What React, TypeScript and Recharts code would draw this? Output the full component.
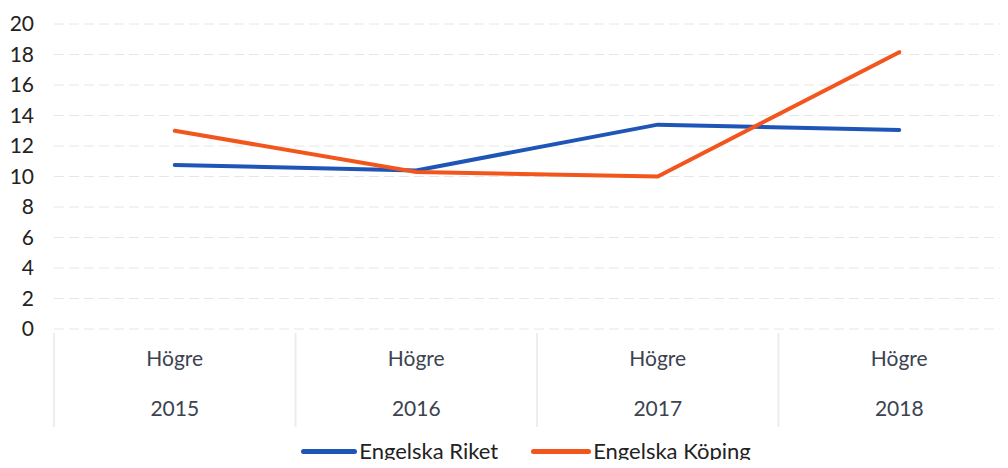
import { LineChart, Line, XAxis, YAxis, CartesianGrid, Legend } from "recharts";

const years = ["2015", "2016", "2017", "2018"];
const level = ["Högre", "Högre", "Högre", "Högre"];
const riket = [10.75, 10.4, 13.4, 13.05];
const koping = [13.0, 10.3, 10.0, 18.15];
const yTicks = [0, 2, 4, 6, 8, 10, 12, 14, 16, 18, 20];

const seriesNames = { riket: "Engelska Riket", koping: "Engelska Köping" };
const colors = { riket: "#1f55b6", koping: "#f2561d" };

const data = years.map((y, i) => ({ year: y, level: level[i], riket: riket[i], koping: koping[i] }));

const CHART_W = 1020;
const LEFT = 54;
const BAND = (CHART_W - LEFT) / years.length;
const FONT = "Lato, 'Open Sans', sans-serif";

function CategoryTick(props: any) {
  const { x, y, payload, index } = props;
  const d = data[index] ?? data.find((r) => r.year === payload.value);
  const sep = "#ededed";
  return (
    <g>
      <line x1={x - BAND / 2} x2={x - BAND / 2} y1={y - 4} y2={y + 90} stroke={sep} strokeWidth={2} />
      {index === years.length - 1 && (
        <line x1={x + BAND / 2} x2={x + BAND / 2} y1={y - 4} y2={y + 90} stroke={sep} strokeWidth={2} />
      )}
      <text x={x} y={y + 20} textAnchor="middle" dominantBaseline="central" fill="#3c4350" fontSize={21} fontFamily={FONT}>
        {d?.level}
      </text>
      <text x={x} y={y + 70} textAnchor="middle" dominantBaseline="central" fill="#3c4350" fontSize={21} fontFamily={FONT}>
        {payload.value}
      </text>
    </g>
  );
}

function LegendContent() {
  const items = [
    { key: "riket", label: seriesNames.riket, color: colors.riket, w: 56 },
    { key: "koping", label: seriesNames.koping, color: colors.koping, w: 60 },
  ];
  return (
    <div style={{ display: "flex", justifyContent: "center", gap: 33, fontFamily: FONT, fontSize: 22, lineHeight: "24px", color: "#222", marginLeft: 32 }}>
      {items.map((it) => (
        <div key={it.key} style={{ display: "flex", alignItems: "center" }}>
          <span style={{ display: "inline-block", width: it.w, height: 5, borderRadius: 3, background: it.color, marginRight: 2 }} />
          <span>{it.label}</span>
        </div>
      ))}
    </div>
  );
}

export default function App() {
  return (
    <div style={{ margin: -8, width: 1008, height: 468, overflow: "hidden", background: "#fff", position: "relative" }}>
      <LineChart width={CHART_W} height={468} data={data} margin={{ top: 24, right: 0, bottom: 0, left: 0 }}>
        <CartesianGrid horizontal vertical={false} stroke="#e6e6e6" strokeDasharray="10 5" />
        <XAxis
          dataKey="year"
          axisLine={false}
          tickLine={false}
          interval={0}
          height={115}
          padding={{ left: BAND / 2, right: BAND / 2 }}
          tick={<CategoryTick />}
        />
        <YAxis
          domain={[0, 20]}
          ticks={yTicks}
          width={LEFT}
          axisLine={false}
          tickLine={false}
          tickSize={0}
          tickMargin={20}
          tick={{ fill: "#222", fontSize: 21, fontFamily: FONT }}
        />
        <Legend verticalAlign="bottom" height={24} content={<LegendContent />} wrapperStyle={{ bottom: 5 }} />
        <Line dataKey="riket" name={seriesNames.riket} stroke={colors.riket} strokeWidth={4} dot={false} isAnimationActive={false} strokeLinecap="round" />
        <Line dataKey="koping" name={seriesNames.koping} stroke={colors.koping} strokeWidth={4} dot={false} isAnimationActive={false} strokeLinecap="round" />
      </LineChart>
    </div>
  );
}
